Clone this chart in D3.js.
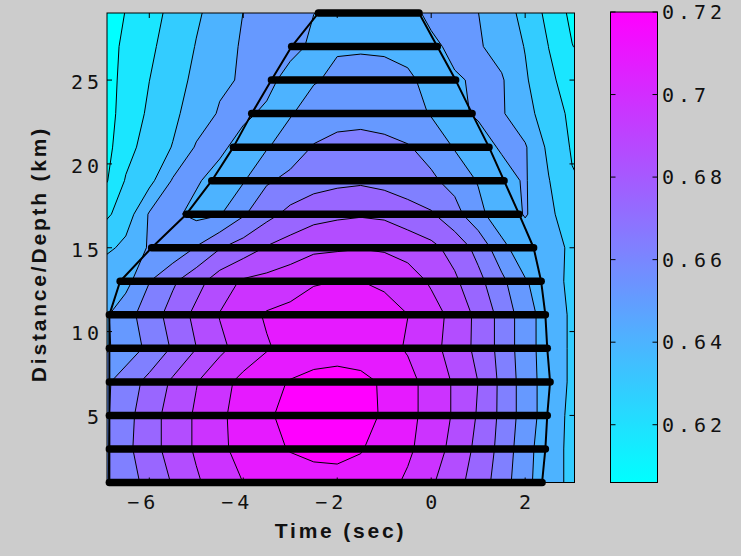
<!DOCTYPE html>
<html>
<head>
<meta charset="utf-8">
<script src="https://cdn.jsdelivr.net/npm/d3@7"></script>
<style>
  html, body { margin: 0; padding: 0; background: #cccccc; }
  svg { display: block; }
</style>
</head>
<body>
<svg id="chart" width="741" height="556"></svg>
<script>
// Sampling grid: time columns (sec) and depth rows (km)
const times  = [-7, -6.5, -6, -5.5, -5, -4.5, -4, -3.5, -3, -2.5, -2, -1.5, -1, -0.5, 0, 0.5, 1, 1.5, 2, 2.5, 3, 3.5];
const depths = [1, 3, 5, 7, 9, 11, 13, 15, 17, 19, 21, 23, 25, 27, 29];

// Field values along each depth row, one value per time column
const row01 = [0.655,0.664,0.672,0.681,0.690,0.697,0.703,0.706,0.708,0.710,0.711,0.710,0.707,0.701,0.693,0.684,0.675,0.663,0.649,0.639,0.632,0.629];
const row03 = [0.654,0.666,0.675,0.685,0.693,0.701,0.706,0.711,0.715,0.717,0.717,0.715,0.710,0.705,0.697,0.688,0.677,0.665,0.650,0.639,0.632,0.629];
const row05 = [0.654,0.665,0.675,0.685,0.693,0.701,0.707,0.713,0.717,0.719,0.720,0.718,0.713,0.706,0.699,0.690,0.679,0.666,0.652,0.640,0.632,0.629];
const row07 = [0.654,0.663,0.672,0.682,0.691,0.699,0.706,0.711,0.715,0.718,0.719,0.717,0.713,0.706,0.699,0.690,0.680,0.666,0.652,0.640,0.633,0.629];
const row09 = [0.643,0.651,0.660,0.670,0.680,0.689,0.696,0.702,0.706,0.708,0.709,0.709,0.706,0.702,0.695,0.687,0.677,0.665,0.651,0.640,0.633,0.629];
const row11 = [0.643,0.653,0.663,0.673,0.683,0.692,0.699,0.704,0.706,0.708,0.709,0.708,0.707,0.703,0.696,0.688,0.677,0.665,0.651,0.640,0.633,0.629];
const row13 = [0.645,0.642,0.657,0.667,0.676,0.686,0.693,0.695,0.698,0.702,0.703,0.703,0.701,0.697,0.690,0.682,0.672,0.660,0.647,0.639,0.632,0.629];
const row15 = [0.630,0.638,0.647,0.649,0.658,0.668,0.674,0.681,0.685,0.689,0.690,0.691,0.690,0.687,0.683,0.676,0.665,0.650,0.637,0.640,0.632,0.629];
const row17 = [0.620,0.628,0.647,0.648,0.643,0.645,0.656,0.665,0.672,0.676,0.678,0.679,0.678,0.674,0.670,0.661,0.650,0.637,0.647,0.637,0.628,0.624];
const row19 = [0.608,0.624,0.631,0.647,0.647,0.642,0.645,0.656,0.660,0.664,0.666,0.667,0.665,0.662,0.659,0.654,0.645,0.642,0.647,0.635,0.624,0.621];
const row21 = [0.606,0.619,0.628,0.635,0.647,0.648,0.642,0.645,0.652,0.658,0.660,0.661,0.660,0.658,0.654,0.645,0.642,0.647,0.647,0.632,0.622,0.620];
const row23 = [0.606,0.616,0.625,0.632,0.640,0.647,0.648,0.644,0.645,0.651,0.654,0.654,0.653,0.651,0.645,0.644,0.647,0.647,0.639,0.628,0.621,0.619];
const row25 = [0.606,0.615,0.623,0.630,0.637,0.644,0.647,0.649,0.642,0.645,0.648,0.649,0.648,0.647,0.644,0.645,0.647,0.647,0.636,0.625,0.619,0.617];
const row27 = [0.606,0.614,0.621,0.628,0.635,0.642,0.647,0.649,0.649,0.644,0.645,0.645,0.645,0.644,0.644,0.648,0.647,0.642,0.634,0.623,0.612,0.606];
const row29 = [0.606,0.612,0.619,0.626,0.633,0.639,0.646,0.648,0.650,0.646,0.644,0.644,0.644,0.643,0.648,0.648,0.646,0.640,0.631,0.620,0.609,0.606];

// Time window (sec) covered at each depth
const barStart = [-6.85,-6.85,-6.85,-6.85,-6.85,-6.85,-6.62,-5.95,-5.21,-4.67,-4.21,-3.82,-3.40,-2.97,-2.40];
const barEnd   = [ 2.36, 2.43, 2.47, 2.53, 2.47, 2.43, 2.34, 2.18, 1.87, 1.55, 1.23, 0.87, 0.52, 0.13,-0.26];

// Axis ticks and colour range
const xTicks = [-6, -4, -2, 0, 2];
const yTicks = [5, 10, 15, 20, 25];
const colorTicks = [0.62, 0.64, 0.66, 0.68, 0.70, 0.72];
const colorMin = 0.606, colorMax = 0.72;

const svg = d3.select("#chart");
const plot = { left: 107, right: 574.5, top: 13, bottom: 482.5 };

const x = d3.scaleLinear().domain([-6.9, 3.05]).range([plot.left, plot.right]);
const y = d3.scaleLinear().domain([1, 29]).range([plot.bottom, plot.top]);

// cyan -> magenta colour map, 11 flat bands for the filled contours
const cool = d3.interpolateRgb("#00ffff", "#ff00ff");
const nBands = 11;
const bandStep = (colorMax - colorMin) / (nBands - 1);
const thresholds = d3.range(1, nBands).map(k => colorMin + (k - 0.5) * bandStep);
const bandColor = k => cool(k / (nBands - 1));

// Contour geometry on the sample grid, mapped to time/depth then pixels
const field = [row01, row03, row05, row07, row09, row11, row13, row15, row17, row19, row21, row23, row25, row27, row29];
const nx = times.length, ny = depths.length;
const contours = d3.contours().size([nx, ny]).thresholds(thresholds)(field.flat());
const gx = d3.scaleLinear().domain([0.5, nx - 0.5]).range([times[0], times[nx - 1]]);
const gy = d3.scaleLinear().domain([0.5, ny - 0.5]).range([depths[0], depths[ny - 1]]);
const toScreen = d3.geoTransform({
  point(px, py) { this.stream.point(x(gx(px)), y(gy(py))); }
});
const path = d3.geoPath(toScreen);

const defs = svg.append("defs");
defs.append("clipPath").attr("id", "plot-clip")
  .append("rect")
  .attr("x", plot.left).attr("y", plot.top)
  .attr("width", plot.right - plot.left).attr("height", plot.bottom - plot.top);

const area = svg.append("g").attr("clip-path", "url(#plot-clip)");

area.append("rect")
  .attr("x", plot.left).attr("y", plot.top)
  .attr("width", plot.right - plot.left).attr("height", plot.bottom - plot.top)
  .attr("fill", bandColor(0));

area.append("g").selectAll("path")
  .data(contours)
  .join("path")
  .attr("d", path)
  .attr("fill", (d, i) => bandColor(i + 1))
  .attr("stroke", "none");

area.append("g").selectAll("path")
  .data(contours)
  .join("path")
  .attr("d", path)
  .attr("fill", "none")
  .attr("stroke", "#000")
  .attr("stroke-width", 1)
  .attr("stroke-linejoin", "round");

// Outline of the sampled window
const windowPts = depths.map((d, i) => [barStart[i], d])
  .concat(depths.map((d, i) => [barEnd[i], d]).reverse());
area.append("path")
  .attr("d", d3.line().x(p => x(p[0])).y(p => y(p[1])).curve(d3.curveLinearClosed)(windowPts))
  .attr("fill", "none")
  .attr("stroke", "#000")
  .attr("stroke-width", 2)
  .attr("stroke-linejoin", "round");

// Thick bars: time window at each depth
svg.append("g").selectAll("line")
  .data(depths)
  .join("line")
  .attr("x1", (d, i) => x(barStart[i]))
  .attr("x2", (d, i) => x(barEnd[i]))
  .attr("y1", d => y(d))
  .attr("y2", d => y(d))
  .attr("stroke", "#000")
  .attr("stroke-width", 7.5)
  .attr("stroke-linecap", "round");

// Frame and inward ticks
const axes = svg.append("g").attr("stroke", "#000").attr("stroke-width", 1);
axes.append("rect")
  .attr("x", plot.left).attr("y", plot.top)
  .attr("width", plot.right - plot.left).attr("height", plot.bottom - plot.top)
  .attr("fill", "none");
const tickLen = 5;
xTicks.forEach(t => {
  axes.append("line").attr("x1", x(t)).attr("x2", x(t)).attr("y1", plot.bottom).attr("y2", plot.bottom - tickLen);
  axes.append("line").attr("x1", x(t)).attr("x2", x(t)).attr("y1", plot.top).attr("y2", plot.top + tickLen);
});
yTicks.forEach(v => {
  axes.append("line").attr("x1", plot.left).attr("x2", plot.left + tickLen).attr("y1", y(v)).attr("y2", y(v));
  axes.append("line").attr("x1", plot.right).attr("x2", plot.right - tickLen).attr("y1", y(v)).attr("y2", y(v));
});

const monoFont = "'DejaVu Sans Mono', monospace";
const fmtTick = v => (v < 0 ? "\u2212" : "") + Math.abs(v);

svg.append("g").selectAll("text")
  .data(xTicks)
  .join("text")
  .attr("x", d => x(d) + 10)
  .attr("y", 509)
  .attr("text-anchor", "end")
  .attr("font-family", monoFont)
  .attr("font-size", 20)
  .attr("letter-spacing", 4)
  .attr("fill", "#111")
  .text(fmtTick);

svg.append("g").selectAll("text")
  .data(yTicks)
  .join("text")
  .attr("x", 103)
  .attr("y", d => y(d) + 8.8)
  .attr("text-anchor", "end")
  .attr("font-family", monoFont)
  .attr("font-size", 20)
  .attr("letter-spacing", 4)
  .attr("fill", "#111")
  .text(fmtTick);

// Axis titles
const titleFont = "'Liberation Sans', Arial, sans-serif";
svg.append("text")
  .attr("x", 340.5)
  .attr("y", 538)
  .attr("text-anchor", "middle")
  .attr("font-family", titleFont)
  .attr("font-weight", "bold")
  .attr("font-size", 21)
  .attr("letter-spacing", 2.8)
  .attr("fill", "#111")
  .text("Time (sec)");

svg.append("text")
  .attr("transform", "translate(46,254) rotate(-90)")
  .attr("text-anchor", "middle")
  .attr("font-family", titleFont)
  .attr("font-weight", "bold")
  .attr("font-size", 21)
  .attr("letter-spacing", 2.8)
  .attr("fill", "#111")
  .text("Distance/Depth (km)");

// Colour bar
const cbar = { left: 610.5, right: 657.5, top: 12, bottom: 482.5 };
const cy = d3.scaleLinear().domain([colorMin, colorMax]).range([cbar.bottom, cbar.top]);
const grad = defs.append("linearGradient")
  .attr("id", "cbar-grad")
  .attr("x1", 0).attr("y1", 1).attr("x2", 0).attr("y2", 0);
d3.range(0, 1.0001, 0.1).forEach(s => {
  grad.append("stop").attr("offset", s).attr("stop-color", cool(s));
});
svg.append("rect")
  .attr("x", cbar.left).attr("y", cbar.top)
  .attr("width", cbar.right - cbar.left).attr("height", cbar.bottom - cbar.top)
  .attr("fill", "url(#cbar-grad)")
  .attr("stroke", "#000")
  .attr("stroke-width", 1);

const cticks = svg.append("g").attr("stroke", "#000").attr("stroke-width", 1);
colorTicks.forEach(v => {
  cticks.append("line").attr("x1", cbar.left).attr("x2", cbar.left + tickLen).attr("y1", cy(v)).attr("y2", cy(v));
  cticks.append("line").attr("x1", cbar.right).attr("x2", cbar.right - tickLen).attr("y1", cy(v)).attr("y2", cy(v));
});

svg.append("g").selectAll("text")
  .data(colorTicks)
  .join("text")
  .attr("x", 662)
  .attr("y", d => cy(d) + 7.3)
  .attr("text-anchor", "start")
  .attr("font-family", monoFont)
  .attr("font-size", 20)
  .attr("letter-spacing", 4)
  .attr("fill", "#111")
  .text(d3.format("~g"));
</script>
</body>
</html>
